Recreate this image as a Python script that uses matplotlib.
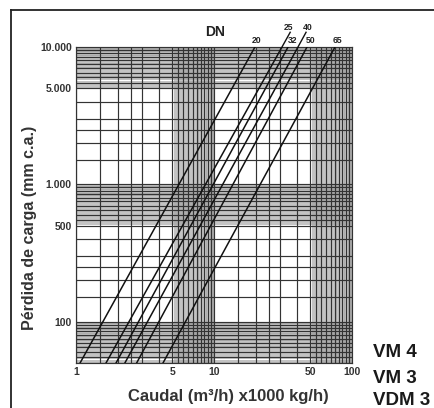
import numpy as np
import matplotlib
matplotlib.use("Agg")
import matplotlib.pyplot as plt
from matplotlib.lines import Line2D

# ---- data ----
dn_labels = ["20", "25", "32", "40", "50", "65"]
q_at_top = [19.8, 31.1, 34.4, 40.6, 47.2, 75.3]     # flow (m3/h) where line meets 10.000 mm
q_at_bottom = [1.07, 1.65, 1.95, 2.26, 2.75, 4.27]  # flow (m3/h) where line meets 50 mm
dp_top = 10000
dp_bottom = 50

x_ticks = [1, 5, 10, 50, 100]
x_ticklabels = ["1", "5", "10", "50", "100"]
y_ticks = [100, 500, 1000, 5000, 10000]
y_ticklabels = ["100", "500", "1.000", "5.000", "10.000"]

grid_main = [1, 1.5, 2, 2.5, 3, 4, 5, 5.5, 6, 6.5, 7, 7.5, 8, 8.5, 9, 9.5]
grid_fine = list(np.round(np.arange(5.0, 10.0, 0.1), 2))

plt.rcParams['font.family'] = ['Liberation Sans', 'DejaVu Sans']

fig = plt.figure(figsize=(4.35, 4.08), dpi=100)
W, H = 435, 408
ax = fig.add_axes([76 / W, 1 - 363 / H, (352 - 76) / W, (363 - 47) / H])
ax.set_xscale('log')
ax.set_yscale('log')
ax.set_xlim(1, 100)
ax.set_ylim(50, 10000)

grid_dark = '#333333'
grid_light = '#a0a0a0'
for dec in [1, 10]:
    for g in grid_fine:
        ax.axvline(dec * g, color=grid_light, lw=0.45, zorder=1)
    for g in grid_main:
        ax.axvline(dec * g, color=grid_dark, lw=0.85, zorder=2)
for dec in [10, 100, 1000]:
    for g in grid_fine:
        ax.axhline(dec * g, color=grid_light, lw=0.45, zorder=1)
    for g in grid_main:
        ax.axhline(dec * g, color=grid_dark, lw=0.85, zorder=2)

# DN lines (straight on log-log paper)
slopes = []
for lab, qt, qb in zip(dn_labels, q_at_top, q_at_bottom):
    ax.plot([qb, qt], [dp_bottom, dp_top], color='#111111', lw=1.1, zorder=4)
    slopes.append(np.log10(dp_top / dp_bottom) / np.log10(qt / qb))

# extensions of DN25 and DN40 above the grid (the "/" before 32 and 50)
ext_dp = 12800
for i in [1, 3]:
    qe = q_at_top[i] * (ext_dp / dp_top) ** (1 / slopes[i])
    ax.plot([q_at_top[i], qe], [dp_top, ext_dp], color='#111111', lw=1.0,
            clip_on=False, zorder=4)

# DN labels
lab_fs = 6.2
row_low = 11240
row_high = 13980
label_pos = {"20": (1.02, row_low), "25": (1.106, row_high), "32": (1.085, row_low),
             "40": (1.18, row_high), "50": (1.07, row_low), "65": (1.05, row_low)}
for lab, qt in zip(dn_labels, q_at_top):
    fx, yy = label_pos[lab]
    ax.text(qt * fx, yy, lab, fontsize=lab_fs, fontweight='bold',
            ha='center', va='center', color='#222222', clip_on=False)
ax.text(10.2, 12800, "DN", fontsize=10, fontweight='bold', ha='center',
        va='center', color='#222222', clip_on=False)

# ticks
ax.set_xticks(x_ticks)
ax.set_xticklabels(x_ticklabels)
ax.set_yticks(y_ticks)
ax.set_yticklabels(y_ticklabels)
ax.minorticks_off()
ax.tick_params(axis='both', length=0, labelsize=7.5, colors='#333333', pad=3)
for t in ax.get_xticklabels() + ax.get_yticklabels():
    t.set_fontweight('bold')

for s in ax.spines.values():
    s.set_color(grid_dark)
    s.set_linewidth(0.85)

# axis labels
fig.text(30 / W, 1 - 228 / H, "Pérdida de carga (mm c.a.)", rotation=90,
         fontsize=11.5, fontweight='bold', color='#333333', ha='center', va='center')
fig.text(228 / W, 1 - 397 / H, "Caudal (m³/h) x1000 kg/h)", fontsize=12,
         fontweight='bold', color='#333333', ha='center', va='center')

# frame lines
fig.add_artist(Line2D([11 / W, 1], [1 - 10 / H, 1 - 10 / H], color='#222222', lw=1.3))
fig.add_artist(Line2D([11 / W, 11 / W], [0, 1 - 10 / H], color='#222222', lw=1.3))

# model names
for txt, yb in [("VM 4", 357), ("VM 3", 383), ("VDM 3", 405)]:
    fig.text(373 / W, 1 - yb / H, txt, fontsize=13.5, fontweight='bold',
             color='#1a1a1a', ha='left', va='baseline')

fig.savefig("out.png", dpi=100)
